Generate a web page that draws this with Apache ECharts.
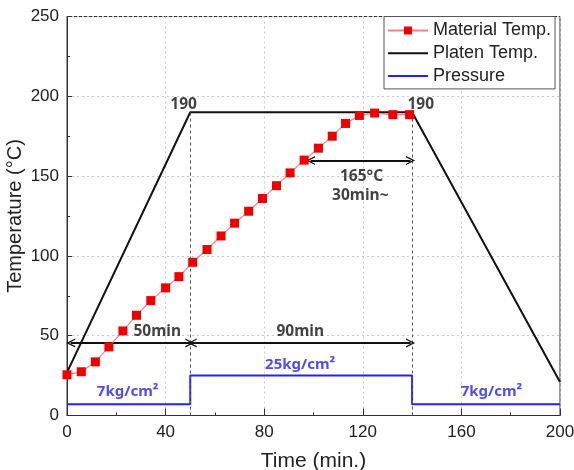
<!DOCTYPE html>
<html>
<head>
<meta charset="utf-8">
<script src="https://cdn.jsdelivr.net/npm/echarts@6/dist/echarts.min.js"></script>
<style>
  html, body { margin: 0; padding: 0; background: #fff; }
  #main { width: 574px; height: 470px; }
</style>
</head>
<body>
<div id="main"></div>
<script>
// 读图得到的数据
var materialTemp = [
    [0, 25.5], [5.8, 27.4], [11.5, 33.6], [17, 43], [22.7, 53], [28.2, 62.8], [34, 72],
    [40, 80], [45.4, 87], [51, 96], [56.8, 104], [62.5, 112.5], [68, 120.5],
    [73.7, 128], [79.3, 136], [85, 144], [90.5, 152], [96.2, 160], [102, 167.5],
    [107.6, 175], [113, 183], [118.6, 188], [124.8, 189.5], [132.2, 188.5], [139, 188.5]
];
var platenTemp = [[0, 27], [50, 190], [140, 190], [200, 21]];
var pressure = [[0, 7], [50, 7], [50, 25], [140, 25], [140, 7], [200, 7]];

var xTicks = [0, 40, 80, 120, 160, 200];
var yTicks = [0, 50, 100, 150, 200, 250];

// 标注文字
var blackNotes = [
    [47.3, 195, '190'], [143.5, 195, '190'],
    [36.6, 52.4, '50min'], [94.6, 52.4, '90min'],
    [119.5, 150, '165°C'], [119, 138, '30min~']
];
var blueNotes = [[24.6, 14.9, '7kg/cm²'], [94.6, 32, '25kg/cm²'], [172.2, 14.9, '7kg/cm²']];

// 双箭头 [x1, y1, x2, y2]
var arrows = [[1.5, 45.5, 49.8, 45.5], [50.8, 45.5, 139.4, 45.5], [98.8, 159.7, 139.4, 159.7]];
var guideX = [50, 140];

var chevron = 'path://M0,10 L5,0 L10,10 L8.4,10 L5,3.2 L1.6,10 Z';
var font = 'Liberation Sans';

var myChart = echarts.init(document.getElementById('main'));

var option = {
    animation: false,
    textStyle: { fontFamily: font },
    grid: {
        left: 67, right: 14, top: 16.5, bottom: 54.5,
        outerBoundsMode: 'none',
        containLabel: false,
        show: true, borderColor: '#333', borderWidth: 1
    },
    legend: {
        data: [
            { name: 'Material Temp.' },
            { name: 'Platen Temp.', itemStyle: { opacity: 0 } },
            { name: 'Pressure', itemStyle: { opacity: 0 } }
        ],
        orient: 'vertical',
        left: 384, top: 16.5,
        padding: [5, 4, 4, 3],
        itemGap: 4.7,
        itemWidth: 40, itemHeight: 10,
        borderColor: '#555', borderWidth: 1,
        backgroundColor: '#fff',
        textStyle: { fontSize: 18, lineHeight: 18, color: '#222', fontFamily: font }
    },
    xAxis: {
        type: 'value',
        min: 0, max: 200, interval: 40,
        name: 'Time (min.)',
        nameLocation: 'middle',
        nameGap: 35,
        nameMoveOverlap: false,
        nameTextStyle: { fontSize: 21, color: '#222' },
        axisLine: { lineStyle: { color: '#333' } },
        axisTick: { inside: true, length: 7, lineStyle: { color: '#333' } },
        minorTick: { show: true, splitNumber: 2, length: 3, lineStyle: { color: '#333' } },
        axisLabel: {
            fontSize: 17, color: '#222', margin: 8,
            formatter: function (v) { return xTicks.indexOf(v) >= 0 ? v : ''; }
        },
        splitLine: { lineStyle: { color: '#c8c8c8', type: [2, 3] } }
    },
    yAxis: {
        type: 'value',
        min: 0, max: 250, interval: 50,
        name: 'Temperature (°C)',
        nameLocation: 'middle',
        nameGap: 42,
        nameMoveOverlap: false,
        nameTextStyle: { fontSize: 20, color: '#222' },
        axisLine: { show: true, lineStyle: { color: '#333' } },
        axisTick: { show: true, inside: true, length: 5, lineStyle: { color: '#333' } },
        minorTick: { show: true, splitNumber: 2, length: 3, lineStyle: { color: '#333' } },
        axisLabel: {
            fontSize: 17, color: '#222', margin: 8,
            formatter: function (v) { return yTicks.indexOf(v) >= 0 ? v : ''; }
        },
        splitLine: { lineStyle: { color: '#c8c8c8', type: [2, 3] } }
    },
    series: [
        {
            name: 'Pressure',
            type: 'line',
            data: pressure,
            symbol: 'none',
            z: 3,
            lineStyle: { color: '#2222ff', width: 2 },
            itemStyle: { color: '#2222ff' }
        },
        {
            name: 'Platen Temp.',
            type: 'line',
            data: platenTemp,
            symbol: 'none',
            z: 4,
            lineStyle: { color: '#111', width: 2 },
            itemStyle: { color: '#111' }
        },
        {
            name: 'Material Temp.',
            type: 'line',
            data: materialTemp,
            symbol: 'rect',
            symbolSize: 9,
            z: 5,
            lineStyle: { color: '#ff8080', width: 1.2 },
            itemStyle: { color: '#ee0000' }
        },
        {
            type: 'scatter',
            data: blackNotes.map(function (n) { return { value: [n[0], n[1]], name: n[2] }; }),
            symbolSize: 0,
            silent: true,
            z: 6,
            label: {
                show: true, position: 'inside', formatter: '{b}',
                color: '#111', fontSize: 15.5, fontWeight: 'bold', fontFamily: 'Noto Sans'
            },
            markLine: {
                silent: true,
                symbol: 'none',
                label: { show: false },
                lineStyle: { color: '#555', type: [3, 3], width: 1 },
                data: guideX.map(function (x) {
                    return [{ coord: [x, 0] }, { coord: [x, 190] }];
                })
            }
        },
        {
            type: 'scatter',
            data: blueNotes.map(function (n) { return { value: [n[0], n[1]], name: n[2] }; }),
            symbolSize: 0,
            silent: true,
            z: 6,
            label: {
                show: true, position: 'inside', formatter: '{b}',
                color: '#2222e6', fontSize: 15, fontWeight: 'bold', fontFamily: 'Noto Sans'
            },
            markLine: {
                silent: true,
                symbol: [chevron, chevron],
                symbolSize: [9, 9],
                label: { show: false },
                lineStyle: { color: '#111', type: 'solid', width: 2 },
                itemStyle: { color: '#111' },
                data: arrows.map(function (a) {
                    return [{ coord: [a[0], a[1]] }, { coord: [a[2], a[3]] }];
                })
            }
        }
    ]
};

myChart.setOption(option);
</script>
</body>
</html>
